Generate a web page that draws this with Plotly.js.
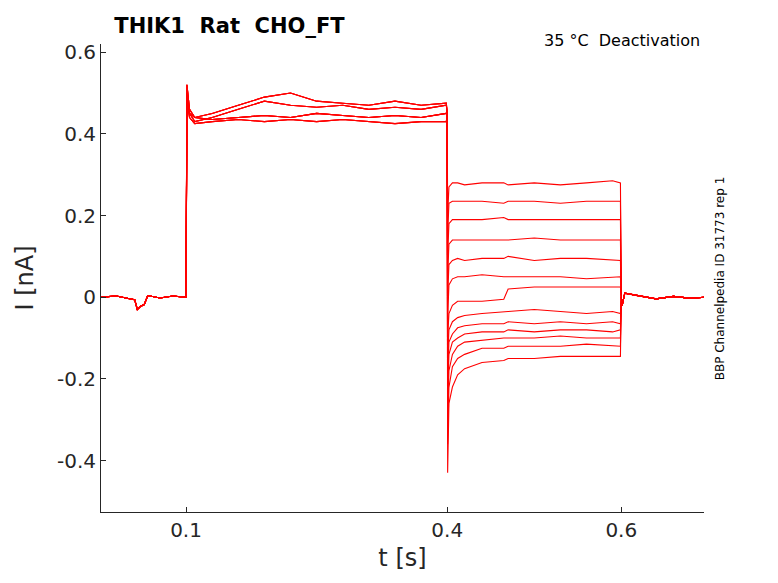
<!DOCTYPE html>
<html>
<head>
<meta charset="utf-8">
<script src="https://cdn.plot.ly/plotly-3.0.1.min.js"></script>
<style>body{margin:0}#chart{width:778px;height:583px}</style>
</head>
<body>
<div id="chart"></div>
<script>
// Data

const tBase = [0.002, 0.02, 0.035, 0.041, 0.044, 0.048, 0.052, 0.056, 0.07, 0.085, 0.099];
const iBase = [0.0, 0.003, -0.004, -0.006, -0.03, -0.022, -0.018, 0.004, -0.002, 0.003, 0.0];

const tHold = [0.1, 0.101, 0.104, 0.11, 0.13, 0.16, 0.19, 0.22, 0.25, 0.28, 0.31, 0.34, 0.37, 0.399];
const holdA = [0.0, 0.52, 0.46, 0.44, 0.435, 0.44, 0.445, 0.44, 0.45, 0.445, 0.44, 0.445, 0.44, 0.45];
const holdB = [0.0, 0.5, 0.45, 0.43, 0.44, 0.46, 0.48, 0.47, 0.465, 0.47, 0.46, 0.465, 0.46, 0.47];
const holdC = [0.0, 0.49, 0.45, 0.44, 0.45, 0.47, 0.49, 0.5, 0.48, 0.475, 0.47, 0.48, 0.47, 0.475];
const holdD = [0.0, 0.48, 0.44, 0.425, 0.43, 0.435, 0.43, 0.435, 0.43, 0.435, 0.43, 0.425, 0.43, 0.43];
const holdSets = [holdA, holdB, holdC, holdD, holdA, holdB, holdC, holdD, holdA, holdB, holdC, holdD, holdA];

const tTest = [0.4, 0.4005, 0.402, 0.406, 0.412, 0.42, 0.44, 0.465, 0.47, 0.5, 0.53, 0.56, 0.59, 0.599];
const testSweeps = [
  [0.45, 0.2, 0.27, 0.28, 0.28, 0.275, 0.28, 0.28, 0.275, 0.28, 0.275, 0.28, 0.285, 0.28],
  [0.45, 0.15, 0.23, 0.235, 0.235, 0.235, 0.235, 0.23, 0.235, 0.235, 0.23, 0.235, 0.235, 0.235],
  [0.45, 0.1, 0.18, 0.19, 0.19, 0.19, 0.19, 0.195, 0.19, 0.19, 0.19, 0.19, 0.19, 0.19],
  [0.45, 0.05, 0.13, 0.14, 0.14, 0.14, 0.14, 0.14, 0.14, 0.145, 0.14, 0.14, 0.14, 0.14],
  [0.45, 0.0, 0.08, 0.09, 0.095, 0.09, 0.095, 0.095, 0.1, 0.09, 0.095, 0.095, 0.09, 0.09],
  [0.45, -0.05, 0.03, 0.045, 0.05, 0.05, 0.055, 0.05, 0.05, 0.05, 0.05, 0.045, 0.05, 0.05],
  [0.45, -0.1, -0.04, -0.02, -0.01, -0.01, -0.01, -0.005, 0.02, 0.025, 0.025, 0.025, 0.025, 0.025],
  [0.45, -0.15, -0.08, -0.06, -0.05, -0.045, -0.04, -0.035, -0.035, -0.03, -0.035, -0.04, -0.035, -0.04],
  [0.45, -0.2, -0.11, -0.09, -0.075, -0.07, -0.065, -0.065, -0.06, -0.065, -0.06, -0.065, -0.06, -0.065],
  [0.45, -0.25, -0.14, -0.11, -0.1, -0.09, -0.085, -0.085, -0.08, -0.085, -0.08, -0.08, -0.085, -0.08],
  [0.45, -0.3, -0.18, -0.14, -0.12, -0.11, -0.105, -0.1, -0.1, -0.1, -0.095, -0.1, -0.1, -0.1],
  [0.45, -0.36, -0.22, -0.17, -0.15, -0.14, -0.125, -0.125, -0.12, -0.12, -0.12, -0.115, -0.12, -0.12],
  [0.45, -0.43, -0.26, -0.22, -0.19, -0.175, -0.16, -0.155, -0.15, -0.15, -0.145, -0.145, -0.145, -0.145],
];

const tTail = [0.6, 0.601, 0.604, 0.62, 0.64, 0.66, 0.68, 0.695];
const iTail = [0.0, -0.02, 0.01, 0.003, -0.004, 0.002, -0.003, 0.0];

// Build sweeps

const traces = testSweeps.map((test, k) => ({
  x: [...tBase, ...tHold, ...tTest, ...tTail],
  y: [...iBase, ...holdSets[k], ...test, ...iTail],
  type: "scatter",
  mode: "lines",
  line: { color: "#ff0000", width: 1.1 },
  hoverinfo: "skip",
}));

const layout = {
  width: 778,
  height: 583,
  showlegend: false,
  paper_bgcolor: "white",
  plot_bgcolor: "white",
  font: { family: "DejaVu Sans", color: "#262626" },
  margin: { l: 101, r: 74, t: 44, b: 71 },
  title: {
    text: "<b>THIK1  Rat  CHO_FT</b>",
    x: 0.147, xanchor: "left", y: 0.968,
    font: { size: 21, color: "black" },
  },
  xaxis: {
    range: [0.0023, 0.695],
    tickvals: [0.1, 0.4, 0.6],
    ticktext: ["0.1", "0.4", "0.6"],
    showgrid: false, zeroline: false,
    showline: true, linecolor: "#262626", linewidth: 1,
    ticks: "inside", ticklen: 5, tickcolor: "#262626",
    tickfont: { size: 20 },
    title: { text: "t [s]", font: { size: 24 }, standoff: 8 },
  },
  yaxis: {
    range: [-0.526, 0.62],
    tickvals: [-0.4, -0.2, 0, 0.2, 0.4, 0.6],
    ticktext: ["-0.4", "-0.2", "0", "0.2", "0.4", "0.6"],
    showgrid: false, zeroline: false,
    showline: true, linecolor: "#262626", linewidth: 1,
    ticks: "inside", ticklen: 5, tickcolor: "#262626",
    tickfont: { size: 20 },
    title: { text: "I [nA]", font: { size: 24 }, standoff: 16 },
  },
  annotations: [
    {
      text: "35 °C  Deactivation", xref: "paper", yref: "paper",
      x: 0.997, y: 1.032, xanchor: "right", yanchor: "top",
      showarrow: false, font: { size: 16, color: "black" },
    },
    {
      text: "BBP Channelpedia ID 31773 rep 1", xref: "paper", yref: "paper",
      x: 1.027, y: 0.5, textangle: -90, xanchor: "center", yanchor: "middle",
      showarrow: false, font: { size: 12, color: "black" },
    },
  ],
};

Plotly.newPlot("chart", traces, layout, { displayModeBar: false, staticPlot: true });
</script>
</body>
</html>
